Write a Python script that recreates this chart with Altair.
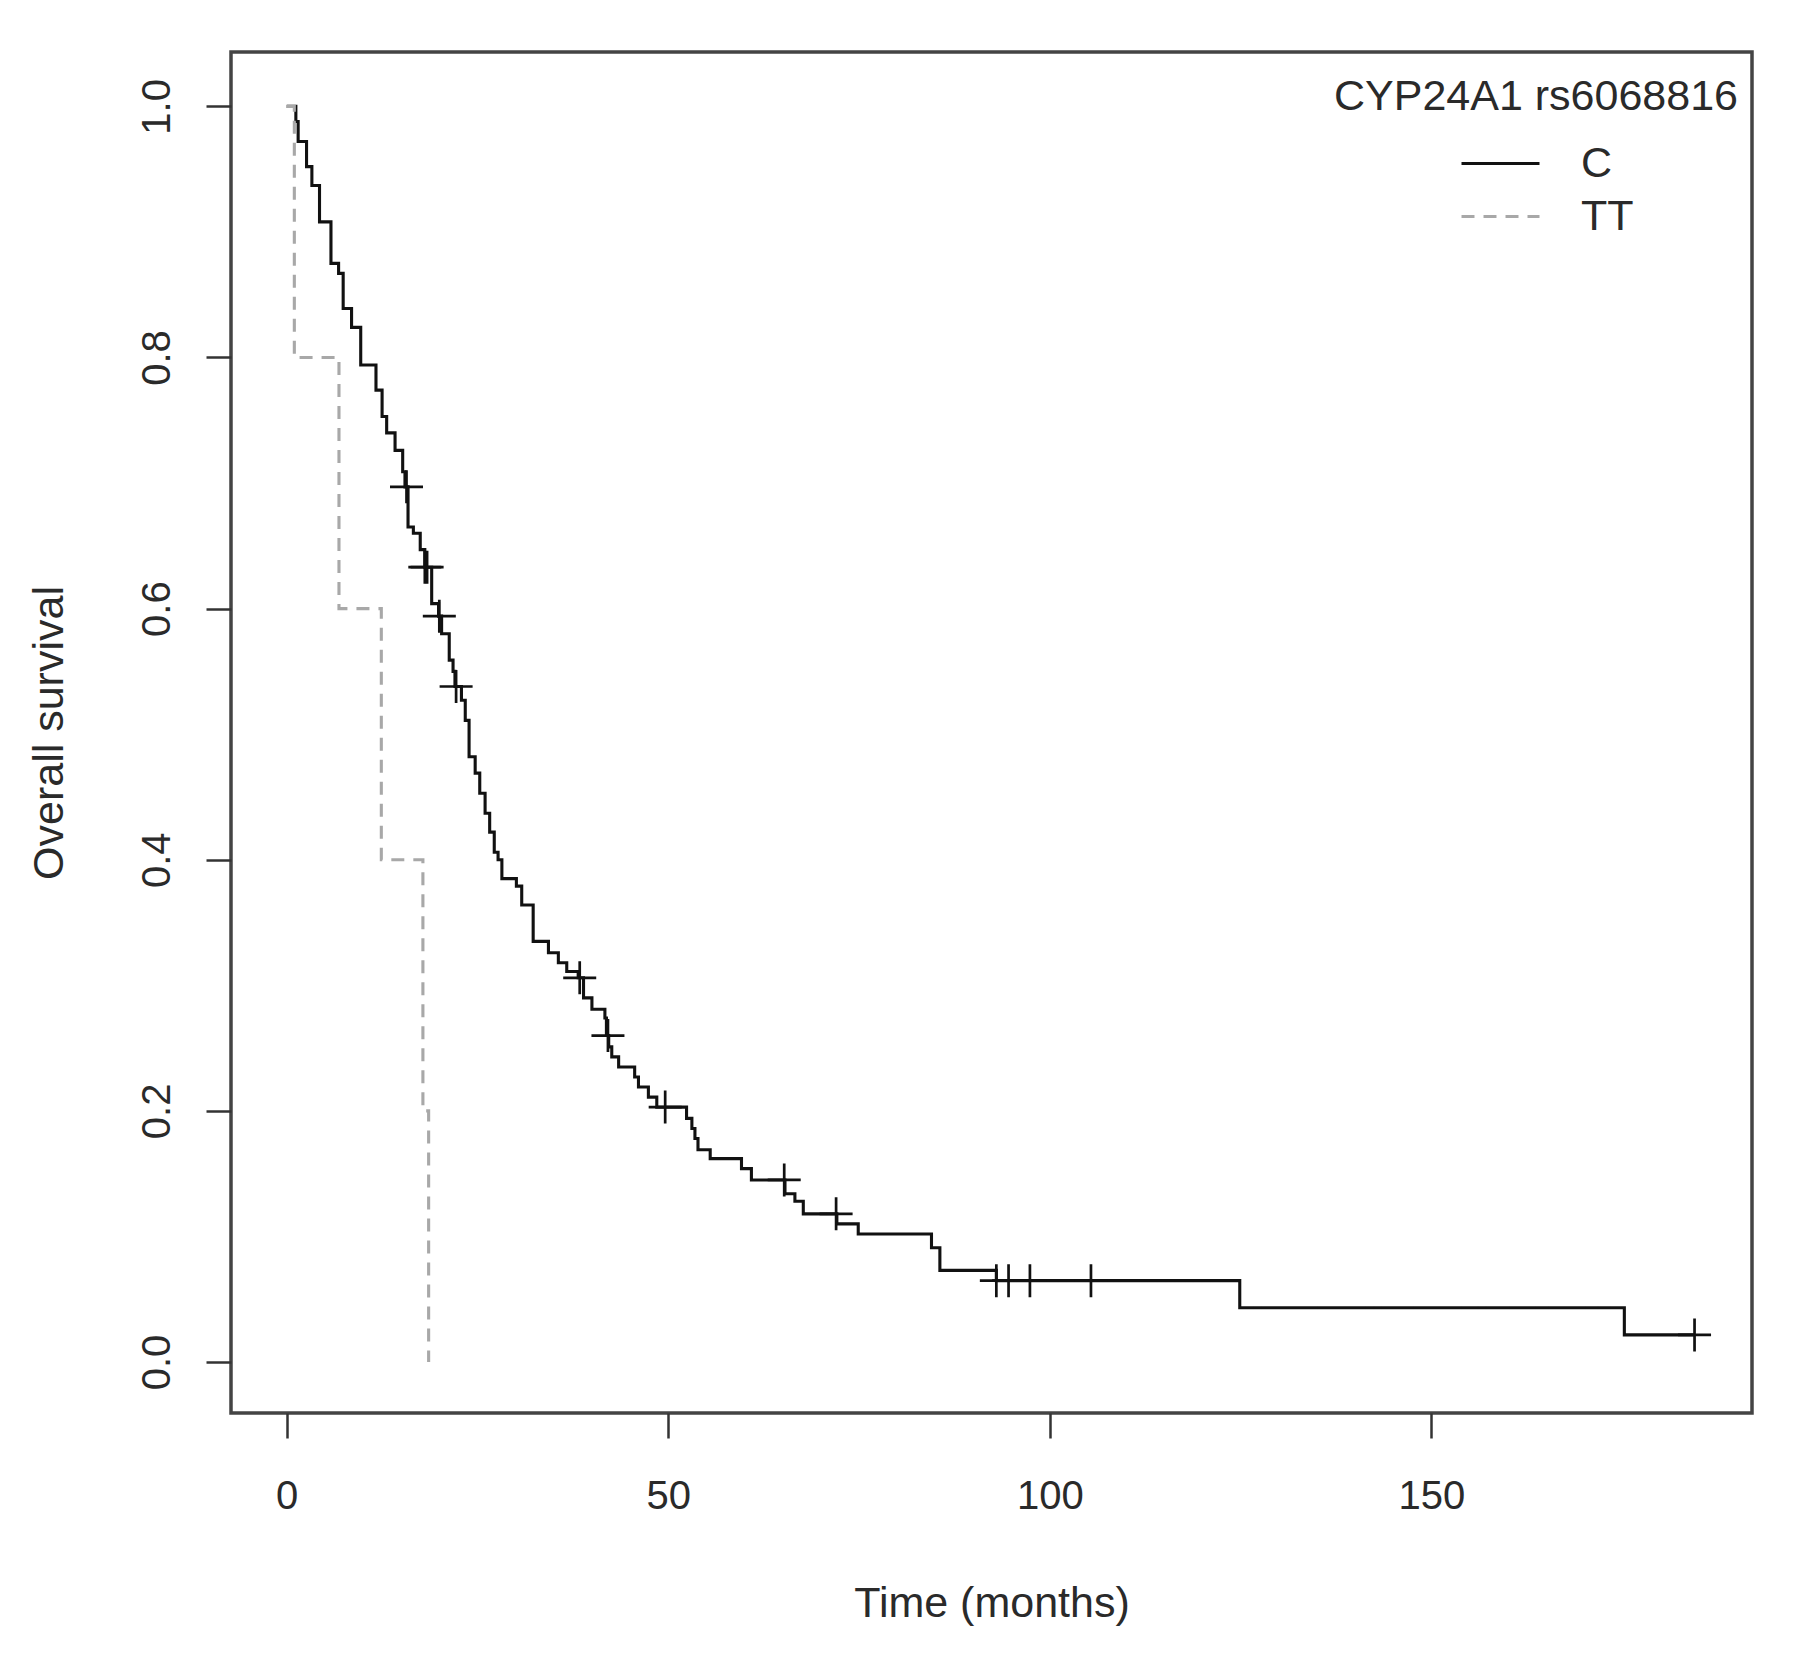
import altair as alt
import pandas as pd

# ---- data ----
groups = ["C", "TT"]

c_time = [0, 1.2, 1.5, 2.6, 3.3, 4.3, 5.8, 6.8, 7.4, 8.5, 9.7, 11.7, 12.5, 13.1, 14.2,
          15.2, 15.5, 15.9, 16.6, 17.5, 18.1, 19.0, 19.9, 20.3, 21.3, 21.8, 22.05, 22.9,
          23.4, 23.9, 24.7, 25.3, 26.0, 26.6, 27.2, 27.7, 28.2, 30.1, 30.8, 32.3, 34.3,
          35.6, 36.7, 38.2, 38.9, 40.0, 41.7, 41.9, 42.2, 42.6, 43.5, 45.6, 46.1, 47.4,
          48.5, 52.4, 53.1, 53.5, 53.9, 55.5, 59.6, 60.9, 65.3, 66.6, 67.7, 72.1, 74.9,
          84.5, 85.6, 93.0, 124.9, 175.3, 184.5]
c_surv = [1.0, 0.988, 0.972, 0.952, 0.937, 0.908, 0.875, 0.867, 0.839, 0.824, 0.794, 0.774,
          0.753, 0.740, 0.726, 0.709, 0.697, 0.665, 0.660, 0.647, 0.633, 0.604, 0.594, 0.580,
          0.559, 0.550, 0.538, 0.527, 0.511, 0.482, 0.469, 0.453, 0.437, 0.422, 0.406, 0.400,
          0.385, 0.379, 0.364, 0.335, 0.326, 0.318, 0.311, 0.306, 0.290, 0.281, 0.274, 0.260,
          0.251, 0.243, 0.235, 0.227, 0.219, 0.211, 0.203, 0.194, 0.186, 0.178, 0.169, 0.162,
          0.154, 0.145, 0.134, 0.128, 0.118, 0.110, 0.102, 0.091, 0.073, 0.0648, 0.0432,
          0.0216, 0.0216]

tt_time = [0, 1.0, 6.85, 12.4, 17.85, 18.6]
tt_surv = [1.0, 0.8, 0.6, 0.4, 0.2, 0.0]

cens_time = [15.7, 18.1, 18.4, 20.0, 22.2, 38.4, 42.1, 49.6, 65.2, 72.0,
             93.0, 94.6, 97.4, 105.4, 184.5]
cens_surv = [0.697, 0.633, 0.633, 0.594, 0.538, 0.306, 0.260, 0.203, 0.145, 0.118,
             0.0648, 0.0648, 0.0648, 0.0648, 0.0216]

x_ticks = [0, 50, 100, 150]
y_ticks = [0.0, 0.2, 0.4, 0.6, 0.8, 1.0]

curves = pd.DataFrame({
    "time": c_time + tt_time,
    "surv": c_surv + tt_surv,
    "group": [groups[0]] * len(c_time) + [groups[1]] * len(tt_time),
})
cens = pd.DataFrame({"time": cens_time, "surv": cens_surv})

FONT = "Liberation Sans"
TXT = "#2a2a2a"
W, H = 1521, 1361

xscale = alt.Scale(domain=[-7.30, 192.03], nice=False, zero=False)
yscale = alt.Scale(domain=[-0.0406, 1.0433], nice=False, zero=False)

x_axis = alt.Axis(
    values=x_ticks, title="Time (months)", grid=False, domain=False,
    tickSize=25, tickWidth=2.5, tickColor="#333333",
    labelFont=FONT, labelFontSize=40, labelColor=TXT, labelPadding=70,
    labelBaseline="alphabetic", labelFlush=False,
    titleFont=FONT, titleFontSize=43, titleFontWeight="normal", titleColor=TXT,
    titleX=W / 2, titleY=203, titleAlign="center", titleBaseline="alphabetic",
)
y_axis = alt.Axis(
    values=y_ticks, format=".1f", title="Overall survival", grid=False, domain=False,
    tickSize=25, tickWidth=2.5, tickColor="#333333",
    labelFont=FONT, labelFontSize=40, labelColor=TXT, labelPadding=37,
    labelAngle=270, labelAlign="center", labelBaseline="alphabetic",
    titleFont=FONT, titleFontSize=43, titleFontWeight="normal", titleColor=TXT,
    titleAngle=270, titleX=-169, titleY=H / 2, titleAlign="center",
    titleBaseline="alphabetic",
)

legend = alt.Legend(
    title="CYP24A1 rs6068816", orient="none", legendX=1103, legendY=24,
    padding=0, titleFont=FONT, titleFontSize=43, titleFontWeight="normal",
    titleColor=TXT, titleAnchor="start", titlePadding=18, titleLimit=900,
    labelFont=FONT, labelFontSize=43, labelColor=TXT, labelLimit=400,
    symbolType="stroke", symbolSize=6084, symbolStrokeWidth=2.8,
    symbolOffset=126, labelOffset=40, clipHeight=53, rowPadding=0,
)

lines = alt.Chart(curves).mark_line(interpolate="step-after", strokeWidth=3.1).encode(
    x=alt.X("time:Q", scale=xscale, axis=x_axis),
    y=alt.Y("surv:Q", scale=yscale, axis=y_axis),
    color=alt.Color("group:N", scale=alt.Scale(domain=groups, range=["#111111", "#a8a8a8"]),
                    legend=legend),
    strokeDash=alt.StrokeDash("group:N", scale=alt.Scale(domain=groups, range=[[1, 0], [13, 9]]),
                              legend=legend),
)

censor = alt.Chart(cens).mark_point(
    shape="M-1,0L1,0M0,-1L0,1", size=1089, filled=False, strokeWidth=2.7,
    color="#111111", opacity=1,
).encode(
    x=alt.X("time:Q", scale=xscale, axis=x_axis),
    y=alt.Y("surv:Q", scale=yscale, axis=y_axis),
)

chart = alt.layer(lines, censor).properties(
    width=W, height=H,
    padding={"left": 223, "top": 44, "right": 40, "bottom": 220},
    autosize=alt.AutoSizeParams(type="none"),
    background="white",
).configure_view(stroke="#444444", strokeWidth=3.5)

chart.save("out.html", embed_options={"renderer": "svg", "actions": False})
